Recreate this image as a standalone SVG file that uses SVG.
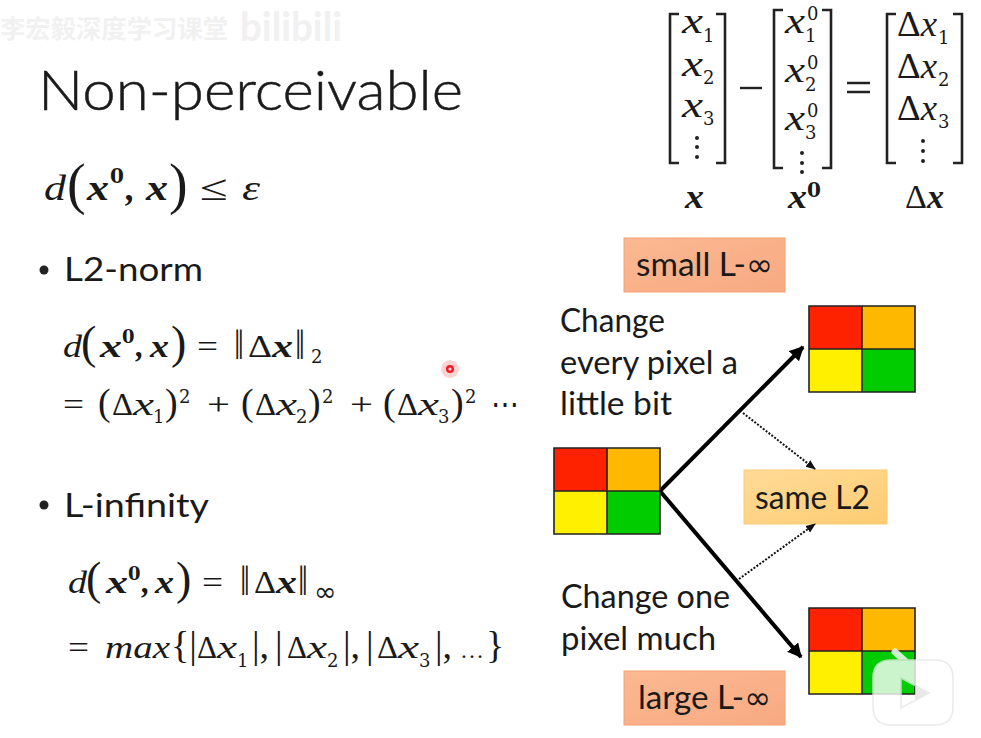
<svg xmlns="http://www.w3.org/2000/svg" width="981" height="738" viewBox="0 0 981 738">
<style>
.t{font-family:"Lato","Noto Sans",sans-serif;fill:#1a1a1a}
.l{font-size:33px}
.m{font-family:"Liberation Serif","DejaVu Serif",serif;fill:#1a1a1a;font-size:32px}
.i{font-style:italic}
.b{font-weight:700;font-style:italic}
.m36{font-size:36px}.s{font-size:18px;font-family:"DejaVu Serif",serif}.p{font-size:38px}.P{font-size:46px}.n{font-size:42px}
.br{fill:none;stroke:#222;stroke-width:2.6}
.g{stroke:#222;stroke-width:1.6}
.dot{fill:#222}
</style>
<defs>
<linearGradient id="or" x1="0" y1="0" x2="1" y2="1"><stop offset="0" stop-color="#fbb892"/><stop offset="1" stop-color="#f8aa82"/></linearGradient>
<linearGradient id="ye" x1="0" y1="0" x2="1" y2="1"><stop offset="0" stop-color="#ffdb98"/><stop offset="1" stop-color="#fdcc72"/></linearGradient>
<marker id="a" viewBox="0 0 10 10" refX="9" refY="5" markerWidth="3.6" markerHeight="3.6" orient="auto"><path d="M0 0L10 5L0 10Z" fill="#000"/></marker>
<marker id="d" viewBox="0 0 10 10" refX="9" refY="5" markerWidth="5" markerHeight="5" orient="auto"><path d="M0 1L10 5L0 9Z" fill="#111"/></marker>
<g id="pix">
<rect x="0" y="0" width="53" height="43" fill="#ff2200"/><rect x="53" y="0" width="53" height="43" fill="#ffb800"/>
<rect x="0" y="43" width="53" height="43" fill="#fff000"/><rect x="53" y="43" width="53" height="43" fill="#00cc00"/>
<path class="g" fill="none" d="M0 0H106V86H0ZM53 0V86M0 43H106"/>
</g>
</defs>
<rect width="981" height="738" fill="#fff"/>

<g id="watermark" fill="#f1f1f1">
<text x="0" y="38" font-size="25" font-weight="700" font-family="'Noto Sans CJK SC',sans-serif" textLength="228" lengthAdjust="spacingAndGlyphs">李宏毅深度学习课堂</text>
<text x="240" y="41" font-size="41" font-weight="700" font-family="'Lato',sans-serif" textLength="102" lengthAdjust="spacingAndGlyphs">bilibili</text>
</g>

<g id="title"><text class="t" x="38" y="110" font-size="55" font-weight="300" stroke="#1a1a1a" stroke-width="0.5" textLength="425" lengthAdjust="spacingAndGlyphs">Non-perceivable</text></g>

<g id="formula-main">
<text class="m i m36" x="44" y="200" textLength="22" lengthAdjust="spacingAndGlyphs">d</text>
<text class="m" x="67" y="203" style="font-size:56px">(</text>
<text class="m b m36" x="87" y="200" textLength="22" lengthAdjust="spacingAndGlyphs">x</text>
<text class="m s" x="110" y="183" font-weight="700" style="font-size:20px">0</text>
<text class="m b m36" x="126" y="200">,</text>
<text class="m b m36" x="146" y="200" textLength="22" lengthAdjust="spacingAndGlyphs">x</text>
<text class="m" x="169" y="203" style="font-size:56px">)</text>
<text class="m m36" x="200" y="200" textLength="28" lengthAdjust="spacingAndGlyphs">≤</text>
<text class="m i m36" x="242" y="200" textLength="18" lengthAdjust="spacingAndGlyphs">ε</text>
</g>

<g id="l2">
<circle class="dot" cx="44" cy="270" r="4.5"/>
<text class="t l" x="64" y="281" textLength="139" lengthAdjust="spacingAndGlyphs">L2-norm</text>
<text class="m i" x="63" y="357" textLength="19" lengthAdjust="spacingAndGlyphs">d</text>
<text class="m P" x="81" y="358">(</text>
<text class="m b" x="100" y="357" textLength="22" lengthAdjust="spacingAndGlyphs">x</text>
<text class="m s" x="122" y="343" font-weight="700">0</text>
<text class="m b" x="136" y="357">,</text>
<text class="m b" x="150" y="357" textLength="19" lengthAdjust="spacingAndGlyphs">x</text>
<text class="m P" x="171" y="358">)</text>
<text class="m" x="197" y="357" textLength="21" lengthAdjust="spacingAndGlyphs">=</text>
<text class="m n" x="234" y="359" textLength="10" lengthAdjust="spacingAndGlyphs">‖</text>
<text class="m" x="248" y="357" textLength="24" lengthAdjust="spacingAndGlyphs">Δ</text>
<text class="m b" x="272" y="357" textLength="21" lengthAdjust="spacingAndGlyphs">x</text>
<text class="m n" x="295" y="359" textLength="10" lengthAdjust="spacingAndGlyphs">‖</text>
<text class="m s" x="311" y="363">2</text>

<text class="m" x="63" y="415" textLength="21" lengthAdjust="spacingAndGlyphs">=</text>
<text class="m p" x="98" y="415">(</text>
<text class="m" x="112" y="415" textLength="21" lengthAdjust="spacingAndGlyphs">Δ</text>
<text class="m i" x="133" y="415" textLength="21" lengthAdjust="spacingAndGlyphs">x</text>
<text class="m s" x="153" y="423">1</text>
<text class="m p" x="165" y="415">)</text>
<text class="m s" x="179" y="403">2</text>
<text class="m" x="207" y="415" textLength="23" lengthAdjust="spacingAndGlyphs">+</text>
<text class="m p" x="241" y="415">(</text>
<text class="m" x="255" y="415" textLength="21" lengthAdjust="spacingAndGlyphs">Δ</text>
<text class="m i" x="276" y="415" textLength="21" lengthAdjust="spacingAndGlyphs">x</text>
<text class="m s" x="296" y="423">2</text>
<text class="m p" x="308" y="415">)</text>
<text class="m s" x="322" y="403">2</text>
<text class="m" x="350" y="415" textLength="23" lengthAdjust="spacingAndGlyphs">+</text>
<text class="m p" x="383" y="415">(</text>
<text class="m" x="397" y="415" textLength="21" lengthAdjust="spacingAndGlyphs">Δ</text>
<text class="m i" x="418" y="415" textLength="21" lengthAdjust="spacingAndGlyphs">x</text>
<text class="m s" x="438" y="423">3</text>
<text class="m p" x="451" y="415">)</text>
<text class="m s" x="465" y="403">2</text>
<text class="m" x="491" y="415" textLength="28" lengthAdjust="spacingAndGlyphs">⋯</text>
</g>

<g id="cursor"><circle cx="450" cy="369" r="9" fill="#f9c4c0" opacity="0.75"/><circle cx="450" cy="369" r="4" fill="#f01a24"/><circle cx="450" cy="369" r="1.6" fill="#fde0e0"/></g>

<g id="linf">
<circle class="dot" cx="44" cy="505" r="4.5"/>
<text class="t l" x="64" y="517" textLength="145" lengthAdjust="spacingAndGlyphs">L-infinity</text>
<text class="m i" x="68" y="593" textLength="19" lengthAdjust="spacingAndGlyphs">d</text>
<text class="m P" x="86" y="594">(</text>
<text class="m b" x="106" y="593" textLength="22" lengthAdjust="spacingAndGlyphs">x</text>
<text class="m s" x="128" y="580" font-weight="700">0</text>
<text class="m b" x="142" y="593">,</text>
<text class="m b" x="155" y="593" textLength="19" lengthAdjust="spacingAndGlyphs">x</text>
<text class="m P" x="176" y="594">)</text>
<text class="m" x="202" y="593" textLength="21" lengthAdjust="spacingAndGlyphs">=</text>
<text class="m n" x="240" y="595" textLength="10" lengthAdjust="spacingAndGlyphs">‖</text>
<text class="m" x="254" y="593" textLength="22" lengthAdjust="spacingAndGlyphs">Δ</text>
<text class="m b" x="276" y="593" textLength="21" lengthAdjust="spacingAndGlyphs">x</text>
<text class="m n" x="298" y="595" textLength="10" lengthAdjust="spacingAndGlyphs">‖</text>
<text class="m" x="314" y="601" style="font-family:'DejaVu Sans',sans-serif;font-size:27px">∞</text>

<text class="m" x="68" y="658" textLength="21" lengthAdjust="spacingAndGlyphs">=</text>
<text class="m i" x="105" y="658" textLength="65" lengthAdjust="spacingAndGlyphs">max</text>
<text class="m p" x="171" y="658">{|</text>
<text class="m" x="197" y="658" textLength="20" lengthAdjust="spacingAndGlyphs">Δ</text>
<text class="m i" x="217" y="658" textLength="20" lengthAdjust="spacingAndGlyphs">x</text>
<text class="m s" x="237" y="667">1</text>
<text class="m p" x="252" y="658">|,</text>
<text class="m p" x="275" y="658">|</text>
<text class="m" x="287" y="658" textLength="20" lengthAdjust="spacingAndGlyphs">Δ</text>
<text class="m i" x="307" y="658" textLength="20" lengthAdjust="spacingAndGlyphs">x</text>
<text class="m s" x="327" y="667">2</text>
<text class="m p" x="343" y="658">|,</text>
<text class="m p" x="366" y="658">|</text>
<text class="m" x="377" y="658" textLength="21" lengthAdjust="spacingAndGlyphs">Δ</text>
<text class="m i" x="398" y="658" textLength="21" lengthAdjust="spacingAndGlyphs">x</text>
<text class="m s" x="419" y="667">3</text>
<text class="m p" x="435" y="658">|,</text>
<text class="m" x="460" y="658" style="font-size:24px">…</text>
<text class="m p" x="486" y="658">}</text>
</g>

<g id="matrix-x">
<path class="br" d="M679 14H670V163H679M716 14H725V163H716"/>
<text class="m i m36" x="682" y="33" textLength="21" lengthAdjust="spacingAndGlyphs">x</text><text class="m s" x="703" y="42">1</text>
<text class="m i m36" x="682" y="76" textLength="21" lengthAdjust="spacingAndGlyphs">x</text><text class="m s" x="703" y="84">2</text>
<text class="m i m36" x="682" y="117" textLength="21" lengthAdjust="spacingAndGlyphs">x</text><text class="m s" x="703" y="125">3</text>
<circle class="dot" cx="697" cy="138" r="2"/><circle class="dot" cx="697" cy="147" r="2"/><circle class="dot" cx="697" cy="157" r="2"/>
<text class="m b" x="685" y="208" style="font-size:34px" textLength="19" lengthAdjust="spacingAndGlyphs">x</text>
</g>
<g id="minus"><path d="M740 88H762" stroke="#222" stroke-width="2.4"/></g>
<g id="matrix-x0">
<path class="br" d="M783 10H774V168H783M822 10H831V168H822"/>
<text class="m i m36" x="785" y="33" textLength="20" lengthAdjust="spacingAndGlyphs">x</text><text class="m s" x="807" y="20">0</text><text class="m s" x="805" y="42">1</text>
<text class="m i m36" x="785" y="82" textLength="20" lengthAdjust="spacingAndGlyphs">x</text><text class="m s" x="807" y="69">0</text><text class="m s" x="805" y="91">2</text>
<text class="m i m36" x="785" y="130" textLength="20" lengthAdjust="spacingAndGlyphs">x</text><text class="m s" x="807" y="117">0</text><text class="m s" x="805" y="139">3</text>
<circle class="dot" cx="802" cy="153" r="2"/><circle class="dot" cx="802" cy="163" r="2"/><circle class="dot" cx="802" cy="172" r="2"/>
<text class="m b" x="788" y="208" style="font-size:34px" textLength="19" lengthAdjust="spacingAndGlyphs">x</text><text class="m s" x="807" y="197" font-weight="700" style="font-size:20px">0</text>
</g>
<g id="equals"><path d="M847 83H870M847 92H870" stroke="#222" stroke-width="2.4"/></g>
<g id="matrix-dx">
<path class="br" d="M896 14H887V163H896M953 14H962V163H953"/>
<text class="m m36" x="897" y="36" textLength="40" lengthAdjust="spacingAndGlyphs">Δ<tspan class="i">x</tspan></text><text class="m s" x="938" y="44">1</text>
<text class="m m36" x="897" y="78" textLength="40" lengthAdjust="spacingAndGlyphs">Δ<tspan class="i">x</tspan></text><text class="m s" x="938" y="86">2</text>
<text class="m m36" x="897" y="120" textLength="40" lengthAdjust="spacingAndGlyphs">Δ<tspan class="i">x</tspan></text><text class="m s" x="938" y="128">3</text>
<circle class="dot" cx="923" cy="141" r="2"/><circle class="dot" cx="923" cy="151" r="2"/><circle class="dot" cx="923" cy="161" r="2"/>
<text class="m" x="905" y="208" style="font-size:34px" textLength="39" lengthAdjust="spacingAndGlyphs">Δ<tspan class="b">x</tspan></text>
</g>

<g id="small-linf"><rect x="624" y="238" width="161" height="54" fill="url(#or)" stroke="#f4a070"/><text class="t l" x="636" y="276" textLength="137" lengthAdjust="spacingAndGlyphs">small L-<tspan font-family="'DejaVu Sans',sans-serif" font-size="32">∞</tspan></text></g>
<g id="same-l2"><rect x="744" y="470" width="143" height="54" fill="url(#ye)" stroke="#fccb70"/><text class="t l" x="755" y="509" textLength="115" lengthAdjust="spacingAndGlyphs">same L2</text></g>
<g id="large-linf"><rect x="624" y="671" width="161" height="54" fill="url(#or)" stroke="#f4a070"/><text class="t l" x="638" y="709" textLength="133" lengthAdjust="spacingAndGlyphs">large L-<tspan font-family="'DejaVu Sans',sans-serif" font-size="32">∞</tspan></text></g>

<g id="caption-top">
<text class="t l" x="560" y="332" textLength="105" lengthAdjust="spacingAndGlyphs">Change</text>
<text class="t l" x="560" y="374" textLength="178" lengthAdjust="spacingAndGlyphs">every pixel a</text>
<text class="t l" x="560" y="415" textLength="112" lengthAdjust="spacingAndGlyphs">little bit</text>
</g>
<g id="caption-bottom">
<text class="t l" x="561" y="608" textLength="169" lengthAdjust="spacingAndGlyphs">Change one</text>
<text class="t l" x="561" y="650" textLength="155" lengthAdjust="spacingAndGlyphs">pixel much</text>
</g>

<g id="connectors">
<path d="M660 491L803 347" stroke="#000" stroke-width="4" fill="none" marker-end="url(#a)"/>
<path d="M660 491L801 657" stroke="#000" stroke-width="4" fill="none" marker-end="url(#a)"/>
<path d="M743 413L815 469" stroke="#111" stroke-width="2" stroke-dasharray="2 1.6" fill="none" marker-end="url(#d)"/>
<path d="M739 579L815 524" stroke="#111" stroke-width="2" stroke-dasharray="2 1.6" fill="none" marker-end="url(#d)"/>
</g>

<use id="grid-source" href="#pix" x="554" y="448"/>
<use id="grid-top" href="#pix" x="809" y="306"/>
<use id="grid-bottom" href="#pix" x="809" y="608"/>

<g id="logo" opacity="0.8">
<path d="M895 652L905 661M930 652L920 661" fill="none" stroke="#fff" stroke-width="7" stroke-linecap="round"/>
<path fill="#fff" stroke="#e6e6e6" stroke-width="1.5" fill-rule="evenodd" d="M891 660H935Q953 660 953 678V707Q953 725 935 725H891Q873 725 873 707V678Q873 660 891 660ZM901 678V708L929 693Z"/>
<path d="M915 685L929 693L915 701Z" fill="#e4e4e4"/>
</g>
</svg>
